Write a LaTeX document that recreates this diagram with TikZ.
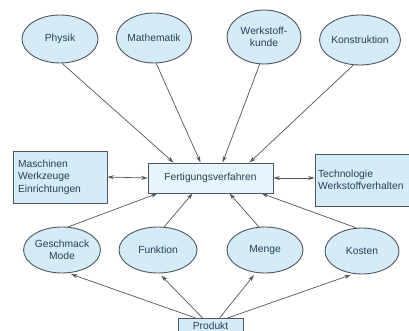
\documentclass[tikz,border=0pt]{standalone}
\usepackage{fontspec}
\setmainfont{Liberation Sans}
\usetikzlibrary{shapes.geometric,arrows.meta}
\definecolor{fillblue}{HTML}{D3ECF8}
\definecolor{filllight}{HTML}{E6F5FB}
\definecolor{edgegray}{HTML}{50565B}
\definecolor{txt}{HTML}{2A4055}
\tikzset{
  oval/.style={ellipse,draw=edgegray,fill=fillblue,line width=0.9pt,inner sep=0pt,
    minimum width=76pt,minimum height=48pt,text=txt,font=\fontsize{10.3}{12}\selectfont,align=center},
  boxn/.style={rectangle,draw=edgegray,fill=fillblue,line width=0.9pt,inner sep=0pt,
    text=txt,font=\fontsize{10.3}{12.5}\selectfont},
  conn/.style={draw=edgegray,line width=0.7pt},
  tip/.style={conn,-{Stealth[length=6.5pt,width=4pt]}},
  dtip/.style={conn,{Stealth[length=6.5pt,width=4pt]}-{Stealth[length=6.5pt,width=4pt]}}
}
\begin{document}
\begin{tikzpicture}[x=1pt,y=-1pt]
\useasboundingbox (0,0) rectangle (409,331);
% top ellipses
\node[oval] (phys) at (60,39) {Physik};
\node[oval,minimum width=68pt,minimum height=50pt] (math) at (154,38) {Mathematik};
\node[oval,minimum width=74pt,minimum height=54pt] (werk) at (264,37) {Werkstoff-\\kunde};
\node[oval,minimum width=76pt,minimum height=50pt] (kons) at (360,40) {Konstruktion};
% middle boxes
\node[boxn,fill=filllight,minimum width=125pt,minimum height=30pt] (fert) at (210.5,178) {Fertigungsverfahren};
\node[boxn,minimum width=94pt,minimum height=52pt,align=left,text width=84pt] (masch) at (60,177) {Maschinen\\Werkzeuge\\Einrichtungen};
\node[boxn,minimum width=98pt,minimum height=52pt,align=left,text width=92pt] (tech) at (364,180) {Technologie\\Werkstoffverhalten};
% bottom ellipses
\node[oval,minimum width=76pt,minimum height=46pt] (gesch) at (62,250) {Geschmack\\Mode};
\node[oval,minimum width=78pt,minimum height=46pt] (funk) at (158,250) {Funktion};
\node[oval,minimum width=76pt,minimum height=46pt] (menge) at (265,250) {Menge};
\node[oval,minimum width=74pt,minimum height=46pt] (kost) at (362,251) {Kosten};
% product
\node[boxn,minimum width=65pt,minimum height=16pt,anchor=north] (prod) at (210.5,318) {};
\node[text=txt,inner sep=0pt,font=\fontsize{10.3}{12}\selectfont] (prodt) at (210.5,325.5) {Produkt};
% top connectors
\draw[tip] (phys.-85) -- ([xshift=26pt]fert.north west);
\draw[tip] (math.-85) -- ([xshift=53pt]fert.north west);
\draw[tip] (werk.-99) -- ([xshift=75pt]fert.north west);
\draw[tip] (kons.-105) -- ([xshift=102pt]fert.north west);
% side connectors
\draw[dtip] (masch.east) -- (fert.west);
\draw[dtip] (fert.east) -- (tech.west |- fert.east);
% bottom ellipses to fert
\draw[tip] (gesch.75) -- ([xshift=10pt]fert.south west);
\draw[tip] (funk.75) -- ([xshift=45pt]fert.south west);
\draw[tip] (menge.105) -- ([xshift=82pt]fert.south west);
\draw[tip] (kost.104) -- ([xshift=114pt]fert.south west);
% product to ellipses
\draw[tip,shorten >=3pt] ([xshift=18pt]prod.north west) -- (gesch.-75);
\draw[tip,shorten >=3pt] ([xshift=25pt]prod.north west) -- (funk.-87);
\draw[tip,shorten >=3pt] ([xshift=42pt]prod.north west) -- (menge.-112);
\draw[tip,shorten >=3pt] ([xshift=50pt]prod.north west) -- (kost.-110);
\end{tikzpicture}
\end{document}
